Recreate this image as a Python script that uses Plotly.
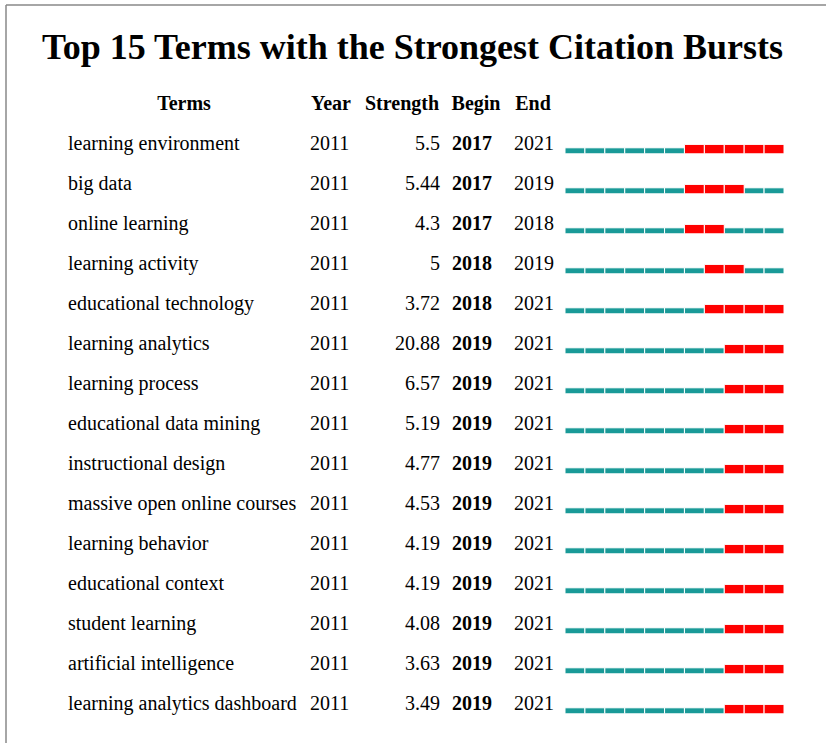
import plotly.graph_objects as go

# ---------------- data ----------------
terms = [
    "learning environment", "big data", "online learning", "learning activity",
    "educational technology", "learning analytics", "learning process",
    "educational data mining", "instructional design", "massive open online courses",
    "learning behavior", "educational context", "student learning",
    "artificial intelligence", "learning analytics dashboard",
]
year = [2011] * 15
strength = ["5.5", "5.44", "4.3", "5", "3.72", "20.88", "6.57", "5.19", "4.77",
            "4.53", "4.19", "4.19", "4.08", "3.63", "3.49"]
begin = [2017, 2017, 2017, 2018, 2018, 2019, 2019, 2019, 2019, 2019, 2019, 2019, 2019, 2019, 2019]
end = [2021, 2019, 2018, 2019, 2021, 2021, 2021, 2021, 2021, 2021, 2021, 2021, 2021, 2021, 2021]
years = list(range(2011, 2022))
headers = ["Terms", "Year", "Strength", "Begin", "End", "2011 - 2021"]
title = "Top 15 Terms with the Strongest Citation Bursts"

TEAL = "#1a9a98"
RED = "#ff0000"
FONT = "Liberation Serif"
FS = 20

rows = list(range(len(terms)))

# burst segments
teal_y, teal_base, red_y, red_base = [], [], [], []
for i in rows:
    for yr in years:
        if begin[i] <= yr <= end[i]:
            red_y.append(i); red_base.append(yr - 0.5)
        else:
            teal_y.append(i); teal_base.append(yr - 0.5)

fig = go.Figure()

fig.add_trace(go.Bar(
    orientation="h", y=teal_y, x=[1] * len(teal_y), base=teal_base,
    width=0.15, offset=0.07, marker=dict(color=TEAL, line=dict(color="white", width=1)),
    xaxis="x2", yaxis="y", showlegend=False, hoverinfo="skip"))
fig.add_trace(go.Bar(
    orientation="h", y=red_y, x=[1] * len(red_y), base=red_base,
    width=0.235, offset=-0.015, marker=dict(color=RED, line=dict(color="white", width=1)),
    xaxis="x2", yaxis="y", showlegend=False, hoverinfo="skip"))

def col(xpos, texts, pos, bold=False):
    fig.add_trace(go.Scatter(
        x=[xpos] * len(texts), y=rows, mode="text", text=texts, textposition=pos,
        textfont=dict(family=FONT, size=FS, color="black", weight="bold" if bold else "normal"),
        showlegend=False, hoverinfo="skip", xaxis="x", yaxis="y"))

col(68, terms, "middle right")
col(310, [str(v) for v in year], "middle right")
col(440, strength, "middle left")
col(452, [str(v) for v in begin], "middle right", bold=True)
col(514, [str(v) for v in end], "middle right")

# headers
hx = [184, 331, 402, 476, 533, 673]
fig.add_trace(go.Scatter(
    x=hx, y=[-1] * len(headers), mode="text", text=headers, textposition="middle center",
    textfont=dict(family=FONT, size=FS, color="black", weight="bold"),
    showlegend=False, hoverinfo="skip"))

fig.add_annotation(x=412, y=-2.45, xref="x", yref="y", text=title, showarrow=False,
                   font=dict(family=FONT, size=36, color="black", weight="bold"))

# frame lines (top and left)
fig.add_shape(type="line", xref="paper", yref="paper", x0=6 / 826, x1=1, y0=1 - 5 / 743, y1=1 - 5 / 743,
              line=dict(color="#888888", width=1.5))
fig.add_shape(type="line", xref="paper", yref="paper", x0=6 / 826, x1=6 / 826, y0=0, y1=1 - 5 / 743,
              line=dict(color="#888888", width=1.5))

fig.update_layout(
    width=826, height=743, margin=dict(l=0, r=0, t=0, b=0),
    paper_bgcolor="white", plot_bgcolor="white", barmode="overlay",
    xaxis=dict(range=[0, 826], domain=[0, 1], visible=False, fixedrange=True),
    xaxis2=dict(range=[2010.5, 2021.5], domain=[565 / 826, 784 / 826], anchor="y",
                visible=False, fixedrange=True),
    yaxis=dict(range=[14.95, -3.625], domain=[0, 1], visible=False, fixedrange=True),
)

fig.write_html("out.html", config={"displayModeBar": False},
               post_script="document.body.style.margin='0';")
